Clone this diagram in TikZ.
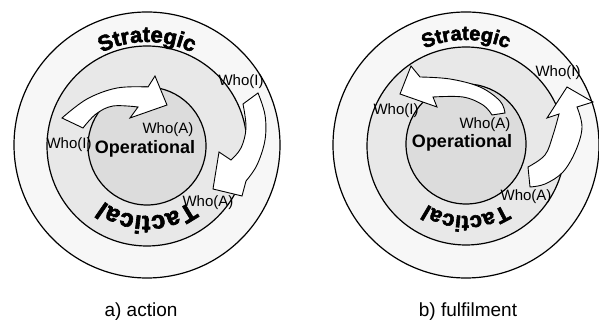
\documentclass[tikz,border=0pt]{standalone}
\usepackage{fontspec}
\setmainfont{Liberation Sans}
\newfontfamily\heavyfont{Liberation Sans}[BoldFeatures={FakeBold=2.5}]
\usetikzlibrary{decorations.text}
\definecolor{ringA}{HTML}{F7F7F7}
\definecolor{ringB}{HTML}{E8E8E8}
\definecolor{ringC}{HTML}{DCDCDC}
\tikzset{
  ringline/.style={draw=black, line width=1.2pt},
  blockarrow/.style={draw=black, fill=white, line width=0.9pt, line join=miter},
  who/.style={font=\fontsize{15}{18}\selectfont, inner sep=0pt},
  opl/.style={font=\bfseries\fontsize{18}{20}\selectfont, inner sep=0.6pt, fill=ringC},
  capt/.style={font=\fontsize{19}{22}\selectfont, inner sep=0pt},
}
\begin{document}
\begin{tikzpicture}[x=1pt,y=1pt]
\useasboundingbox (0,0) rectangle (599,329);
\begin{scope}[shift={(0,329)}, yscale=-1]
  % ---------- left diagram ----------
  \draw[ringline, fill=ringA] (147,145) circle (133);
  \draw[ringline, fill=ringB] (147,146) circle (100);
  \draw[ringline, fill=ringC] (147,146) circle (59);
  \node[who] (wiL1) at (69,145) {Who(I)};
  \node[opl] (opL) at (145,149) {Operational};
  \node[who] (waL1) at (168,130) {Who(A)};
  \node[who] (wiL2) at (241,82) {Who(I)};
  \node[who] (waL2) at (208,203) {Who(A)};
  % upper arrow
  \draw[blockarrow] plot[smooth, tension=0.6] coordinates {(62,118) (87,99) (117,88) (148,87)}
     -- (155,76) -- (167,105) -- (130,118) -- (138,107)
     -- plot[smooth, tension=0.6] coordinates {(138,107) (113,106) (96,114) (83,128)} -- cycle;
  % right arrow
  \draw[blockarrow] plot[smooth, tension=0.6] coordinates {(243,104) (246,128) (241,148) (231,160)}
     -- (219,152) -- (213,189) -- (242,196) -- (246,181)
     -- plot[smooth, tension=0.6] coordinates {(246,181) (257,165) (265,140) (265,115) (258,93)} -- cycle;
  % ---------- right diagram ----------
  \draw[ringline, fill=ringA] (466,145) circle (133);
  \draw[ringline, fill=ringB] (466,146) circle (99);
  \draw[ringline, fill=ringC] (466,144) circle (60);
  \node[who] (wiR1) at (396,111) {Who(I)};
  \node[opl] (opR) at (462,143) {Operational};
  \node[who] (waR1) at (485,125) {Who(A)};
  \node[who] (wiR2) at (558,73) {Who(I)};
  \node[who] (waR2) at (526,197) {Who(A)};
  % upper arrow
  \draw[blockarrow] plot[smooth, tension=0.6] coordinates {(505,113) (500,101) (480,87) (450,79) (420,77)}
     -- (411,66) -- (400,94) -- (437,107) -- (433,97)
     -- plot[smooth, tension=0.6] coordinates {(433,97) (463,97) (483,105) (492,115)} -- cycle;
  % right arrow
  \draw[blockarrow] plot[smooth, tension=0.6] coordinates {(528,167) (545,155) (553,135) (559,114)}
     -- (547,118) -- (567,87) -- (593,102) -- (577,107)
     -- plot[smooth, tension=0.6] coordinates {(577,107) (582,127) (576,150) (563,172) (545,184) (530,187)} -- cycle;
  % captions
  \node[capt] (capA) at (141,312) {a) action};
  \node[capt] (capB) at (468,312) {b) fulfilment};
\end{scope}
% curved level labels (y-up coordinates)
\path[decorate, decoration={text along path, text align=center,
   text={|\heavyfont\bfseries\fontsize{22}{24}\selectfont|Strategic}}]
   (147,184) ++(160:103) arc[start angle=160, end angle=20, radius=103];
\path[decorate, decoration={text along path, text align=center,
   text={|\heavyfont\bfseries\fontsize{25}{28}\selectfont|Tactical}}]
   (147,184) ++(-10:71) arc[start angle=-10, end angle=-170, radius=71];
\path[decorate, decoration={text along path, text align=center,
   text={|\heavyfont\bfseries\fontsize{20}{24}\selectfont|Strategic}}]
   (466,184) ++(160:105) arc[start angle=160, end angle=20, radius=105];
\path[decorate, decoration={text along path, text align=center,
   text={|\heavyfont\bfseries\fontsize{22}{24}\selectfont|Tactical}}]
   (466,184) ++(-10:71) arc[start angle=-10, end angle=-170, radius=71];
\end{tikzpicture}
\end{document}
